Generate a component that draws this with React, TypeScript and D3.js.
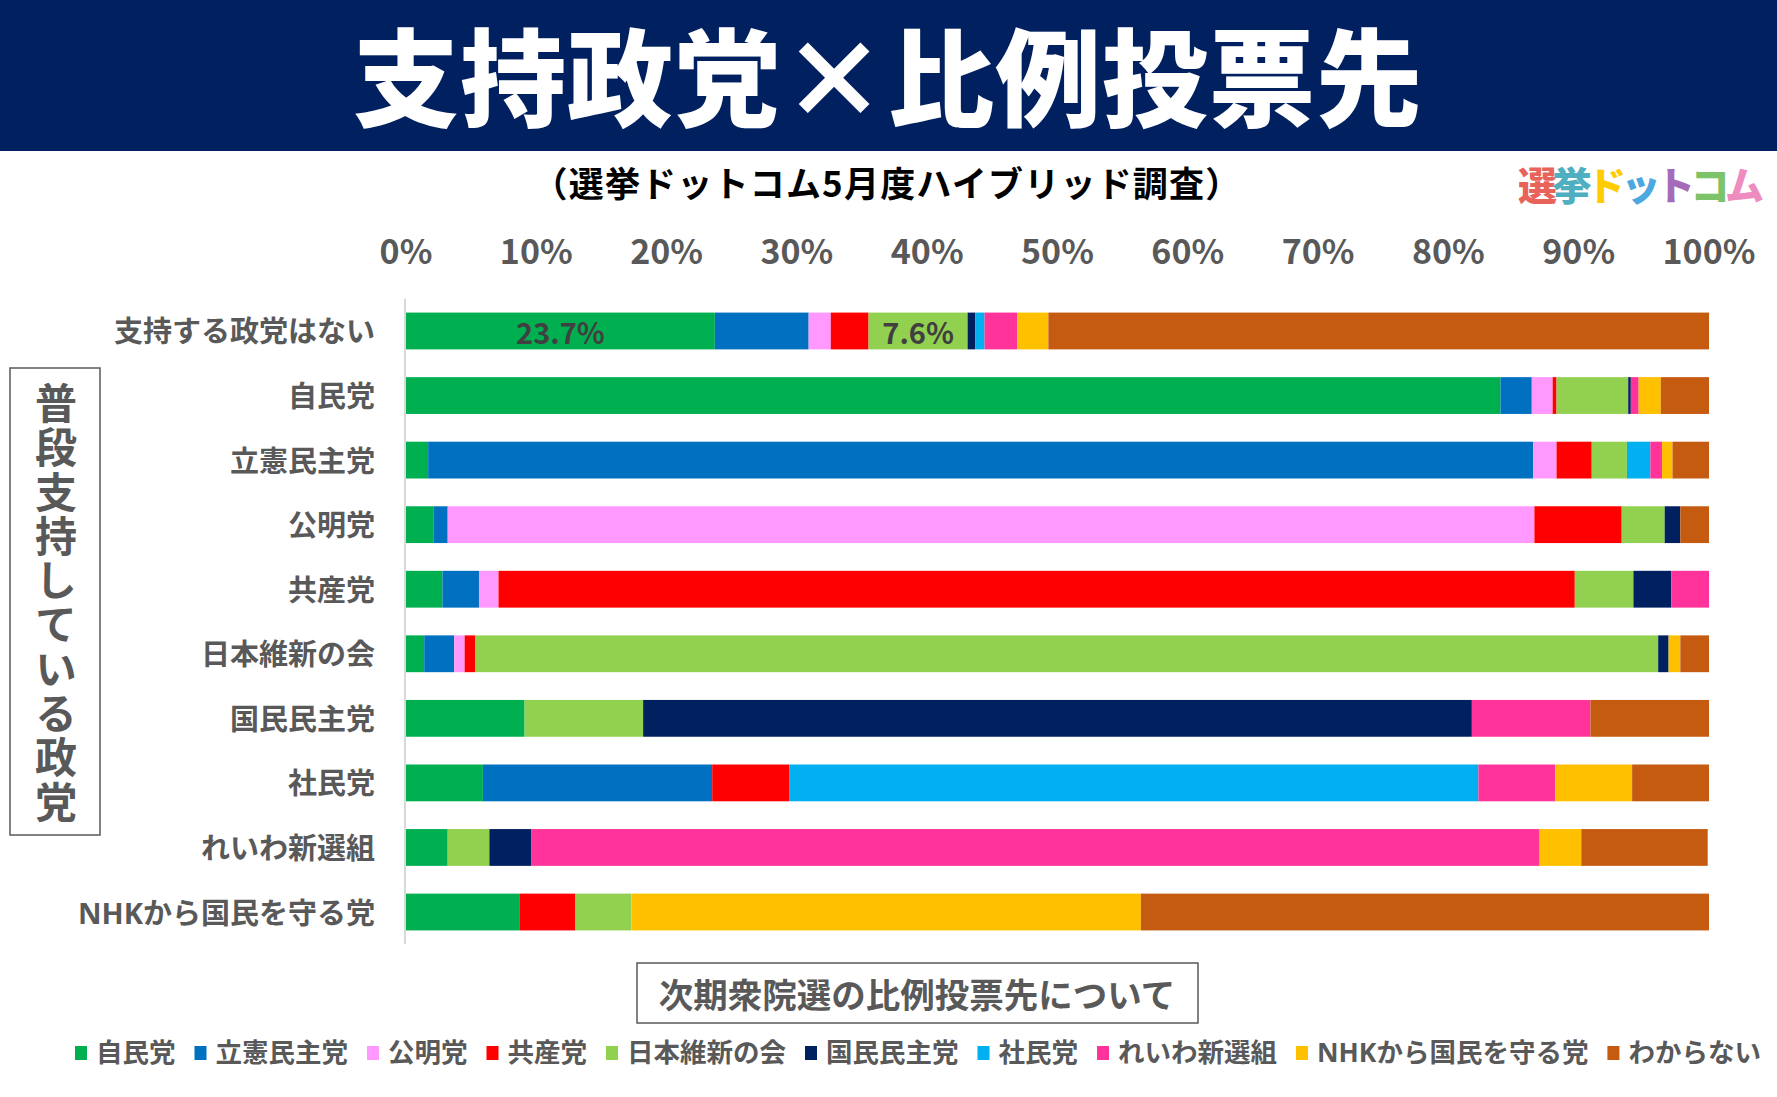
import * as d3 from "d3";
import { useMemo } from "react";

const categories = [
  "支持する政党はない",
  "自民党",
  "立憲民主党",
  "公明党",
  "共産党",
  "日本維新の会",
  "国民民主党",
  "社民党",
  "れいわ新選組",
  "NHKから国民を守る党",
];

const parties = [
  "自民党",
  "立憲民主党",
  "公明党",
  "共産党",
  "日本維新の会",
  "国民民主党",
  "社民党",
  "れいわ新選組",
  "NHKから国民を守る党",
  "わからない",
];

// share of each answer (%), one array per answer, in category order
const jimin = [23.7, 84.0, 1.7, 2.1, 2.8, 1.4, 9.1, 5.9, 3.2, 8.7];
const rikken = [7.2, 2.4, 84.8, 1.1, 2.8, 2.3, 0, 17.6, 0, 0];
const komei = [1.7, 1.6, 1.8, 83.4, 1.5, 0.8, 0, 0, 0, 0];
const kyosan = [2.9, 0.3, 2.7, 6.7, 82.6, 0.8, 0, 5.9, 0, 4.3];
const ishin = [7.6, 5.5, 2.7, 3.3, 4.5, 90.8, 9.1, 0, 3.2, 4.3];
const kokumin = [0.6, 0.2, 0, 1.2, 2.9, 0.8, 63.6, 0, 3.2, 0];
const shamin = [0.7, 0, 1.8, 0, 0, 0, 0, 52.9, 0, 0];
const reiwa = [2.5, 0.6, 0.9, 0, 2.9, 0, 9.1, 5.9, 77.4, 0];
const nhk = [2.4, 1.7, 0.8, 0, 0, 0.9, 0, 5.9, 3.2, 39.1];
const wakaranai = [50.7, 3.7, 2.8, 2.2, 0, 2.2, 9.1, 5.9, 9.7, 43.6];

const seriesValues = [jimin, rikken, komei, kyosan, ishin, kokumin, shamin, reiwa, nhk, wakaranai];

const partyColors = [
  "#00B050",
  "#0070C0",
  "#FF99FF",
  "#FF0000",
  "#92D050",
  "#002060",
  "#00B0F0",
  "#FF3399",
  "#FFC000",
  "#C55A11",
];

const xTicks = [0, 10, 20, 30, 40, 50, 60, 70, 80, 90, 100];

// segments that carry a value label
const labeledCells: [string, string][] = [
  ["支持する政党はない", "自民党"],
  ["支持する政党はない", "日本維新の会"],
];

const logoChars = ["選", "挙", "ド", "ッ", "ト", "コ", "ム"];
const logoColors = ["#E8645A", "#4FAFC0", "#FFCC00", "#4CA8E0", "#A56BB8", "#7CC36A", "#EE8BBF"];

const FONT = "'Noto Sans CJK JP', 'Noto Sans', sans-serif";
// latin letters a bit wider, like the original
const LABEL_FONT = "'Open Sans', 'Noto Sans CJK JP', sans-serif";
const GRAY = "#595959";

function App() {
  const width = 1777;
  const height = 1097;

  const xScale = d3.scaleLinear().domain([0, 100]).range([406, 1709]);
  const yScale = d3
    .scaleBand<string>()
    .domain(categories)
    .range([298.7, 944.3])
    .paddingInner(0.43)
    .paddingOuter(0.215);

  const table = categories.map((c, i) => {
    const row: Record<string, any> = { category: c };
    parties.forEach((p, j) => (row[p] = seriesValues[j][i]));
    return row;
  });
  const series = d3.stack<Record<string, any>>().keys(parties).order(d3.stackOrderNone)(table);

  // legend layout from measured text widths
  const legendItems = useMemo(() => {
    const ctx = document.createElement("canvas").getContext("2d")!;
    ctx.font = `bold 26.5px ${LABEL_FONT}`;
    let x = 75;
    return parties.map((p, i) => {
      const item = { name: p, color: partyColors[i], x };
      x += 12 + 9 + ctx.measureText(p).width + 19;
      return item;
    });
  }, []);

  return (
    <svg
      width={width}
      height={height}
      style={{ position: "absolute", left: 0, top: 0, background: "#fff" }}
      fontFamily={FONT}
    >
      {/* banner */}
      <rect x={0} y={0} width={width} height={151} fill="#002060" />
      <text
        x={888}
        y={72}
        fill="#fff"
        fontSize={106}
        fontWeight={900}
        textAnchor="middle"
        dominantBaseline="central"
        letterSpacing={1}
      >
        支持政党×比例投票先
      </text>

      <text
        x={887}
        y={181}
        fontSize={35}
        fontWeight={700}
        textAnchor="middle"
        dominantBaseline="central"
        fill="#000"
        letterSpacing={1.2}
      >
        （選挙ドットコム5月度ハイブリッド調査）
      </text>

      {/* logo */}
      <text x={1518} y={183} fontSize={39} fontWeight={900} dominantBaseline="central" letterSpacing={-4.5}>
        {logoChars.map((ch, i) => (
          <tspan key={i} fill={logoColors[i]}>
            {ch}
          </tspan>
        ))}
      </text>

      {/* x ticks on top */}
      {xTicks.map((t) => (
        <text
          key={t}
          x={xScale(t)}
          y={249}
          fontSize={34}
          fontWeight={700}
          fill={GRAY}
          textAnchor="middle"
          dominantBaseline="central"
        >
          {t}%
        </text>
      ))}

      {/* bars */}
      {series.map((s, i) => (
        <g key={s.key} fill={partyColors[i]}>
          {s.map((d, j) =>
            d[1] - d[0] > 0 ? (
              <rect
                key={j}
                x={xScale(d[0])}
                y={yScale(String(d.data.category))}
                width={xScale(d[1]) - xScale(d[0])}
                height={yScale.bandwidth()}
              />
            ) : null
          )}
        </g>
      ))}

      {/* value labels */}
      {labeledCells.map(([cat, party]) => {
        const s = series[parties.indexOf(party)];
        const d = s[categories.indexOf(cat)];
        return (
          <text
            key={cat + party}
            x={xScale((d[0] + d[1]) / 2)}
            y={yScale(cat)! + yScale.bandwidth() / 2}
            fontSize={29}
            fontWeight={700}
            fill="#404040"
            textAnchor="middle"
            dominantBaseline="central"
          >
            {(d[1] - d[0]).toFixed(1)}%
          </text>
        );
      })}

      {/* category axis */}
      <line x1={405} x2={405} y1={298.7} y2={944.3} stroke="#D9D9D9" strokeWidth={2} />
      {categories.map((c) => (
        <text
          key={c}
          x={375}
          y={yScale(c)! + yScale.bandwidth() / 2}
          fontSize={29}
          fontWeight={700}
          fill={GRAY}
          textAnchor="end"
          dominantBaseline="central"
          fontFamily={LABEL_FONT}
        >
          {c}
        </text>
      ))}

      {/* left vertical title box */}
      <rect x={10} y={368} width={90} height={467} fill="none" stroke={GRAY} strokeWidth={1.5} />
      <text
        x={56}
        y={382}
        fontSize={42}
        fontWeight={700}
        fill={GRAY}
        letterSpacing={2.3}
        style={{ writingMode: "vertical-rl", textOrientation: "upright" } as any}
      >
        普段支持している政党
      </text>

      {/* bottom axis title box */}
      <rect x={637} y={963} width={561} height={60} fill="none" stroke={GRAY} strokeWidth={1.5} />
      <text
        x={917}
        y={993}
        fontSize={34.5}
        fontWeight={700}
        fill={GRAY}
        textAnchor="middle"
        dominantBaseline="central"
      >
        次期衆院選の比例投票先について
      </text>

      {/* legend */}
      {legendItems.map((it) => (
        <g key={it.name}>
          <rect x={it.x} y={1046} width={12} height={14} fill={it.color} />
          <text
            x={it.x + 21}
            y={1052}
            fontSize={26.5}
            fontWeight={700}
            fill={GRAY}
            dominantBaseline="central"
            fontFamily={LABEL_FONT}
          >
            {it.name}
          </text>
        </g>
      ))}
    </svg>
  );
}

export default App;
